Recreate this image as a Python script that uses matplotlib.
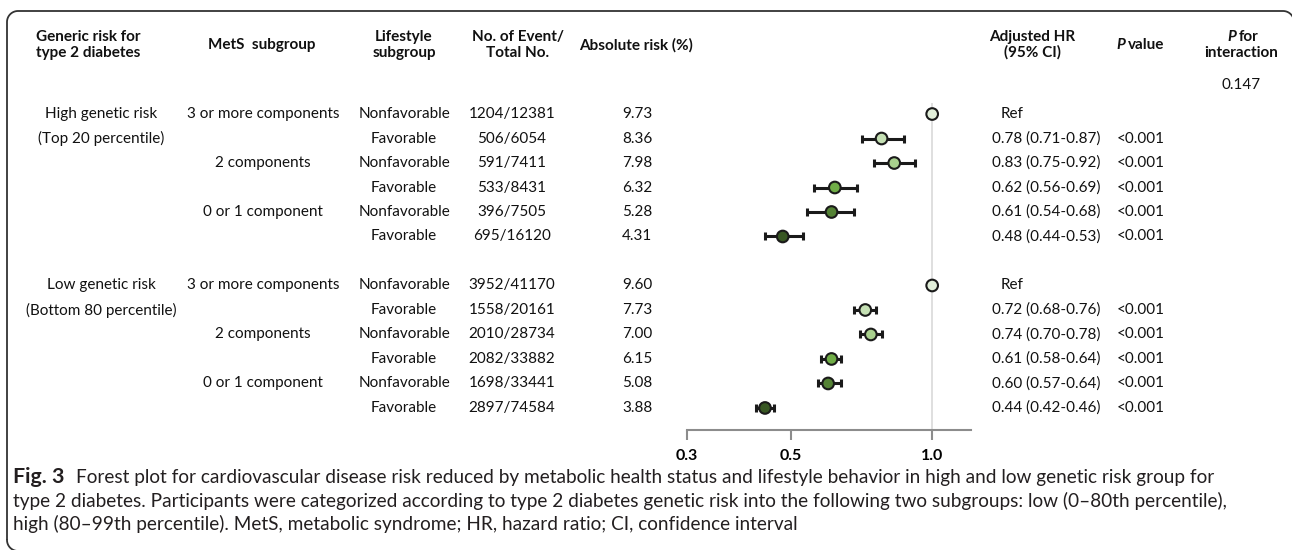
import numpy as np
import matplotlib
matplotlib.use("Agg")
import matplotlib.pyplot as plt
from matplotlib import transforms, font_manager
from matplotlib.ticker import NullLocator

plt.rcParams['font.family'] = ['Lato', 'DejaVu Sans']

# ---- data
genetic_groups = ["High genetic risk", "Low genetic risk"]
genetic_sub = ["(Top 20 percentile)", "(Bottom 80 percentile)"]
mets_groups = ["3 or more components", "2 components", "0 or 1 component"]
lifestyle = ["Nonfavorable", "Favorable"]

events_high = ["1204/12381", "506/6054", "591/7411", "533/8431", "396/7505", "695/16120"]
abs_high = [9.73, 8.36, 7.98, 6.32, 5.28, 4.31]
hr_high = [1.00, 0.78, 0.83, 0.62, 0.61, 0.48]
lo_high = [np.nan, 0.71, 0.75, 0.56, 0.54, 0.44]
hi_high = [np.nan, 0.87, 0.92, 0.69, 0.68, 0.53]

events_low = ["3952/41170", "1558/20161", "2010/28734", "2082/33882", "1698/33441", "2897/74584"]
abs_low = [9.60, 7.73, 7.00, 6.15, 5.08, 3.88]
hr_low = [1.00, 0.72, 0.74, 0.61, 0.60, 0.44]
lo_low = [np.nan, 0.68, 0.70, 0.58, 0.57, 0.42]
hi_low = [np.nan, 0.76, 0.78, 0.64, 0.64, 0.46]

p_values = ["", "<0.001", "<0.001", "<0.001", "<0.001", "<0.001"]
p_interaction = "0.147"
ticks = [0.3, 0.5, 1.0]
tick_labels = ["0.3", "0.5", "1.0"]

marker_colors = ["#e2efda", "#c5e0b4", "#a9d18e", "#70ad47", "#548235", "#385723"]

caption = [
    "Forest plot for cardiovascular disease risk reduced by metabolic health status and lifestyle behavior in high and low genetic risk group for",
    "type 2 diabetes. Participants were categorized according to type 2 diabetes genetic risk into the following two subgroups: low (0\u201380th percentile),",
    "high (80\u201399th percentile). MetS, metabolic syndrome; HR, hazard ratio; CI, confidence interval",
]

# ---- figure
W, H = 1292, 550
fig = plt.figure(figsize=(W / 100, H / 100), dpi=100)
bg = fig.add_axes([0, 0, 1, 1])
bg.set_xlim(0, W)
bg.set_ylim(H, 0)
bg.axis('off')


# frame: rounded box whose right and bottom edges run off the picture
def corner(cx, cy, r, t0, t1):
    t = np.linspace(t0, t1, 20)
    return cx + r * np.cos(t), cy + r * np.sin(t)

r = 11
L, T, R, B = 7, 11, 1294, 551
parts = [corner(L + r, T + r, r, np.pi, 1.5 * np.pi),
         corner(R - r, T + r, r, 1.5 * np.pi, 2 * np.pi)]
fx = np.concatenate([[L], parts[0][0], parts[1][0], [R]])
fy = np.concatenate([[B - r], parts[0][1], parts[1][1], [B + 20]])
bl = corner(L + r, B - r, r, np.pi, 0.5 * np.pi)
bg.plot(fx, fy, color='#333333', lw=1.3, solid_capstyle='butt')
bg.plot(np.r_[bl[0], W + 10], np.r_[bl[1], B], color='#333333', lw=1.3)

# forest axes
x0, x1, ytop, ybot = 687, 971, 103, 430
ax = fig.add_axes([x0 / W, 1 - ybot / H, (x1 - x0) / W, (ybot - ytop) / H])
ax.patch.set_alpha(0)
ax.set_xscale('log')
ax.set_xlim(0.3, 1.21)
ax.set_ylim(12.9, -0.45)
for s in ['top', 'right', 'left']:
    ax.spines[s].set_visible(False)
ax.spines['bottom'].set_color('#8c8c8c')
ax.spines['bottom'].set_linewidth(1.5)
ax.set_yticks([])
ax.xaxis.set_minor_locator(NullLocator())
ax.set_xticks(ticks)
ax.set_xticklabels(tick_labels, fontsize=11.5, fontweight='bold')
ax.tick_params(axis='x', colors='#8c8c8c', labelcolor='black', length=7, width=1.5, pad=7)
ax.axvline(1.0, color='#d9d9d9', lw=1.2, zorder=0)

rows_high = np.arange(6)
rows_low = np.arange(7, 13)
for rows, hr, lo, hi in [(rows_high, hr_high, lo_high, hi_high), (rows_low, hr_low, lo_low, hi_low)]:
    hr = np.array(hr); lo = np.array(lo); hi = np.array(hi)
    m = ~np.isnan(lo)
    ax.errorbar(hr[m], rows[m], xerr=[hr[m] - lo[m], hi[m] - hr[m]], fmt='none',
                ecolor='#1a1a1a', elinewidth=2.2, capsize=2.8, capthick=2.2, zorder=2)
    ax.scatter(hr, rows, s=70, c=marker_colors, edgecolors='#1a1a1a', linewidths=1.5, zorder=3)

# ---- table text
tr = transforms.blended_transform_factory(bg.transData, ax.transData)
fs = 11
txt = dict(fontsize=fs, ha='center', va='center', color='#111111', transform=tr)

for g, (rows, events, absr, hr, lo, hi) in enumerate([
        (rows_high, events_high, abs_high, hr_high, lo_high, hi_high),
        (rows_low, events_low, abs_low, hr_low, lo_low, hi_low)]):
    ax.text(101, rows[0], genetic_groups[g], **txt)
    ax.text(101, rows[1], genetic_sub[g], **txt)
    for i, r in enumerate(rows):
        if i % 2 == 0:
            ax.text(263, r, mets_groups[i // 2], **txt)
        ax.text(404, r, lifestyle[i % 2], **txt)
        ax.text(512, r, events[i], **txt)
        ax.text(637, r, f"{absr[i]:.2f}", **txt)
        if np.isnan(lo[i]):
            ax.text(1012, r, "Ref", **txt)
        else:
            ax.text(1046, r, f"{hr[i]:.2f} ({lo[i]:.2f}-{hi[i]:.2f})", **txt)
        ax.text(1141, r, p_values[i], **txt)

# ---- headers
hd = dict(fontsize=fs, fontweight='bold', ha='center', va='center', color='#111111', linespacing=1.1)
bg.text(88, 45, "Generic risk for\ntype 2 diabetes", **hd)
bg.text(262, 45, "MetS  subgroup", **hd)
bg.text(404, 45, "Lifestyle\nsubgroup", **hd)
bg.text(518, 45, "No. of Event/\nTotal No.", **hd)
bg.text(636, 45, "Absolute risk (%)", **hd)
bg.text(1032, 45, "Adjusted HR\n(95% CI)", **hd)
bg.text(1125, 45, "P", fontsize=fs, fontweight='bold', style='italic', ha='right', va='center', color='#111111')
bg.text(1128, 45, "value", fontsize=fs, fontweight='bold', ha='left', va='center', color='#111111')
bg.text(1236, 37, "P", fontsize=fs, fontweight='bold', style='italic', ha='right', va='center', color='#111111')
bg.text(1239, 37, "for", fontsize=fs, fontweight='bold', ha='left', va='center', color='#111111')
bg.text(1241, 53, "interaction", fontsize=fs, fontweight='bold', ha='center', va='center', color='#111111')
bg.text(1241, 85, p_interaction, fontsize=fs, ha='center', va='center', color='#111111')

# ---- caption (condensed face if there is one, size fitted to the caption width)
names = {f.name for f in font_manager.fontManager.ttflist}
cap_font = 'Liberation Sans Narrow' if 'Liberation Sans Narrow' in names else 'Lato'
renderer = fig.canvas.get_renderer()
probe = bg.text(0, 0, caption[1], fontsize=10, family=cap_font)
cap_fs = 10 * 1223 / probe.get_window_extent(renderer).width
probe.remove()

cap = dict(va='center', color='#231f20', family=cap_font)
bg.text(13, 477, "Fig. 3", fontweight='bold', fontsize=cap_fs * 1.12, **cap)
bg.text(76, 478, caption[0], fontsize=cap_fs, **cap)
bg.text(13, 501, caption[1], fontsize=cap_fs, **cap)
bg.text(13, 524, caption[2], fontsize=cap_fs, **cap)

fig.savefig("out.png", dpi=100)
